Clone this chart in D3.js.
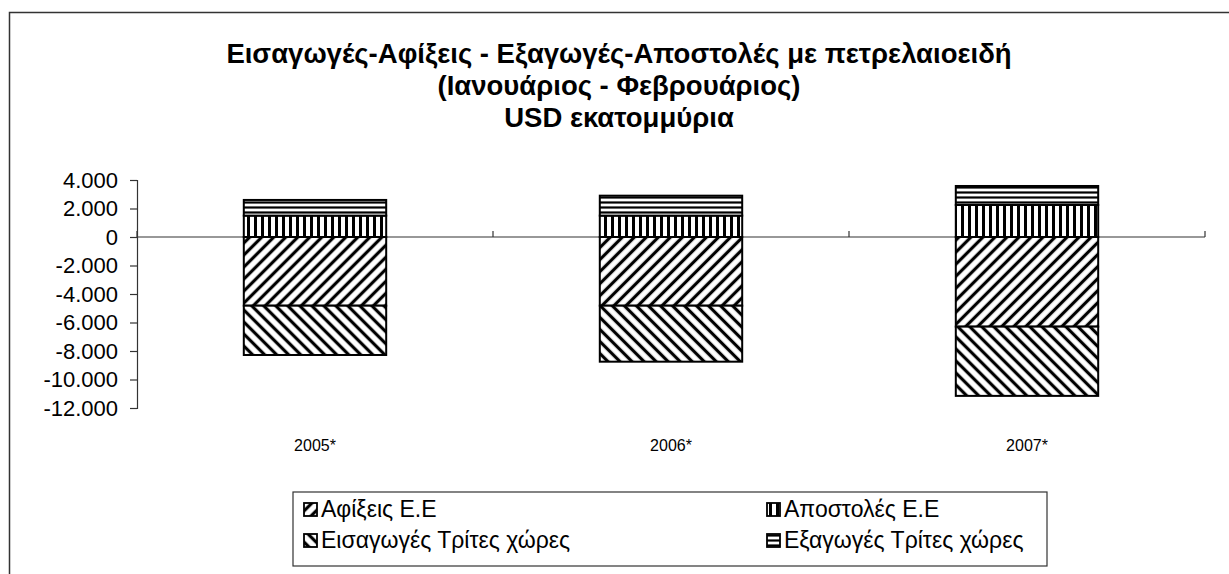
<!DOCTYPE html>
<html>
<head>
<meta charset="utf-8">
<script src="https://cdn.jsdelivr.net/npm/d3@7"></script>
<style>
  body { margin: 0; background: #fff; }
  text { font-family: "Liberation Sans", Arial, sans-serif; fill: #000; }
</style>
</head>
<body>
<svg width="1229" height="574"></svg>
<script>
// data (USD millions)
const years = ["2005*", "2006*", "2007*"];
const afixeis = [-4820, -4820, -6290];     // Αφίξεις Ε.Ε
const apostoles = [1500, 1500, 2250];      // Αποστολές Ε.Ε
const eisagoges = [-3460, -3930, -4860];   // Εισαγωγές Τρίτες χώρες
const exagoges = [1100, 1400, 1330];       // Εξαγωγές Τρίτες χώρες
const yTicks = [4000, 2000, 0, -2000, -4000, -6000, -8000, -10000, -12000];
const seriesNames = ["Αφίξεις Ε.Ε", "Αποστολές  Ε.Ε", "Εισαγωγές Τρίτες χώρες", "Εξαγωγές Τρίτες χώρες"];
const titleLines = [
  "Εισαγωγές-Αφίξεις - Εξαγωγές-Αποστολές με πετρελαιοειδή",
  "(Ιανουάριος - Φεβρουάριος)",
  "USD εκατομμύρια"
];

const svg = d3.select("svg");
const width = +svg.attr("width");
const height = +svg.attr("height");

// outer chart frame (right and bottom edges run off the picture)
svg.append("rect")
  .attr("x", 9.5).attr("y", 12.5)
  .attr("width", width + 10).attr("height", height + 10)
  .attr("fill", "none")
  .attr("stroke", "#333")
  .attr("stroke-width", 1.5);

// hatch patterns
const defs = svg.append("defs");
function hatch(id, angle, size, sw) {
  const p = defs.append("pattern")
    .attr("id", id)
    .attr("patternUnits", "userSpaceOnUse")
    .attr("width", size).attr("height", size)
    .attr("patternTransform", "rotate(" + angle + ")");
  p.append("rect").attr("width", size).attr("height", size).attr("fill", "#fff");
  p.append("line")
    .attr("x1", size / 2).attr("y1", 0)
    .attr("x2", size / 2).attr("y2", size)
    .attr("stroke", "#000")
    .attr("stroke-width", sw);
}
hatch("p-afixeis", 45, 8.5, 3.2);     // "/" stripes
hatch("p-apostoles", 0, 7, 3);        // vertical stripes
hatch("p-eisagoges", -45, 8.5, 3.2);  // "\" stripes
hatch("p-exagoges", 90, 5, 2.2);      // horizontal stripes
const fills = ["url(#p-afixeis)", "url(#p-apostoles)", "url(#p-eisagoges)", "url(#p-exagoges)"];

// title
svg.append("g").selectAll("text")
  .data(titleLines)
  .enter()
  .append("text")
  .attr("x", 619)
  .attr("y", (d, i) => 63 + i * 32)
  .attr("text-anchor", "middle")
  .attr("font-size", 27.5)
  .attr("font-weight", "bold")
  .text(d => d);

// scales
const x = d3.scaleBand()
  .domain(years)
  .range([137, 1205])
  .paddingInner(0.6)
  .paddingOuter(0.3);

const y = d3.scaleLinear()
  .domain([-12000, 4000])
  .range([408, 180]);

// stacked data (positives up, negatives down)
const table = years.map((yr, i) => ({
  year: yr, s0: afixeis[i], s1: apostoles[i], s2: eisagoges[i], s3: exagoges[i]
}));
const stack = d3.stack()
  .keys(["s0", "s1", "s2", "s3"])
  .offset(d3.stackOffsetDiverging);
const layers = stack(table);

// zero line (drawn first so the bars cover it)
svg.append("line")
  .attr("x1", 137).attr("x2", 1205)
  .attr("y1", y(0)).attr("y2", y(0))
  .attr("stroke", "#333")
  .attr("stroke-width", 1.2);

// category tick marks on zero line
svg.append("g").selectAll("line")
  .data([137, 137 + 356, 137 + 712, 1205])
  .enter()
  .append("line")
  .attr("x1", d => d).attr("x2", d => d)
  .attr("y1", y(0) - 6).attr("y2", y(0))
  .attr("stroke", "#333")
  .attr("stroke-width", 1.2);

// bars
svg.append("g").selectAll("g")
  .data(layers)
  .enter()
  .append("g")
  .attr("fill", (d, i) => fills[i])
  .selectAll("rect")
  .data(d => d)
  .enter()
  .append("rect")
  .attr("x", d => x(d.data.year))
  .attr("width", x.bandwidth())
  .attr("y", d => y(Math.max(d[0], d[1])))
  .attr("height", d => Math.abs(y(d[0]) - y(d[1])))
  .attr("stroke", "#000")
  .attr("stroke-width", 2);

// y axis with Greek number format
const locale = d3.formatLocale({ decimal: ",", thousands: ".", grouping: [3], currency: ["", ""], minus: "-" });
const fmt = locale.format(",.0f");
const yAxis = svg.append("g")
  .attr("transform", "translate(137,0)")
  .call(d3.axisLeft(y).tickValues(yTicks).tickFormat(fmt).tickSize(7).tickPadding(12));
yAxis.select(".domain").attr("stroke", "#333").attr("stroke-width", 1.2);
yAxis.selectAll(".tick line").attr("stroke", "#333").attr("stroke-width", 1.2);
yAxis.selectAll("text")
  .attr("font-size", 22)
  .attr("font-family", "'Liberation Sans', Arial, sans-serif");

// category labels
svg.append("g").selectAll("text")
  .data(years)
  .enter()
  .append("text")
  .attr("x", d => x(d) + x.bandwidth() / 2)
  .attr("y", 451)
  .attr("text-anchor", "middle")
  .attr("font-size", 16)
  .text(d => d);

// legend
svg.append("rect")
  .attr("x", 293).attr("y", 492)
  .attr("width", 754).attr("height", 74)
  .attr("fill", "#fff")
  .attr("stroke", "#333")
  .attr("stroke-width", 1.2);

const legendPos = [[304, 517], [767, 517], [304, 548], [767, 548]];
const leg = svg.append("g").selectAll("g")
  .data(seriesNames)
  .enter()
  .append("g")
  .attr("transform", (d, i) => "translate(" + legendPos[i][0] + "," + legendPos[i][1] + ")");
leg.append("rect")
  .attr("x", 0).attr("y", -14)
  .attr("width", 13).attr("height", 13)
  .attr("fill", (d, i) => fills[i])
  .attr("stroke", "#000")
  .attr("stroke-width", 1.8);
leg.append("text")
  .attr("x", 17)
  .attr("y", 0)
  .attr("font-size", 23)
  .text(d => d);
</script>
</body>
</html>
